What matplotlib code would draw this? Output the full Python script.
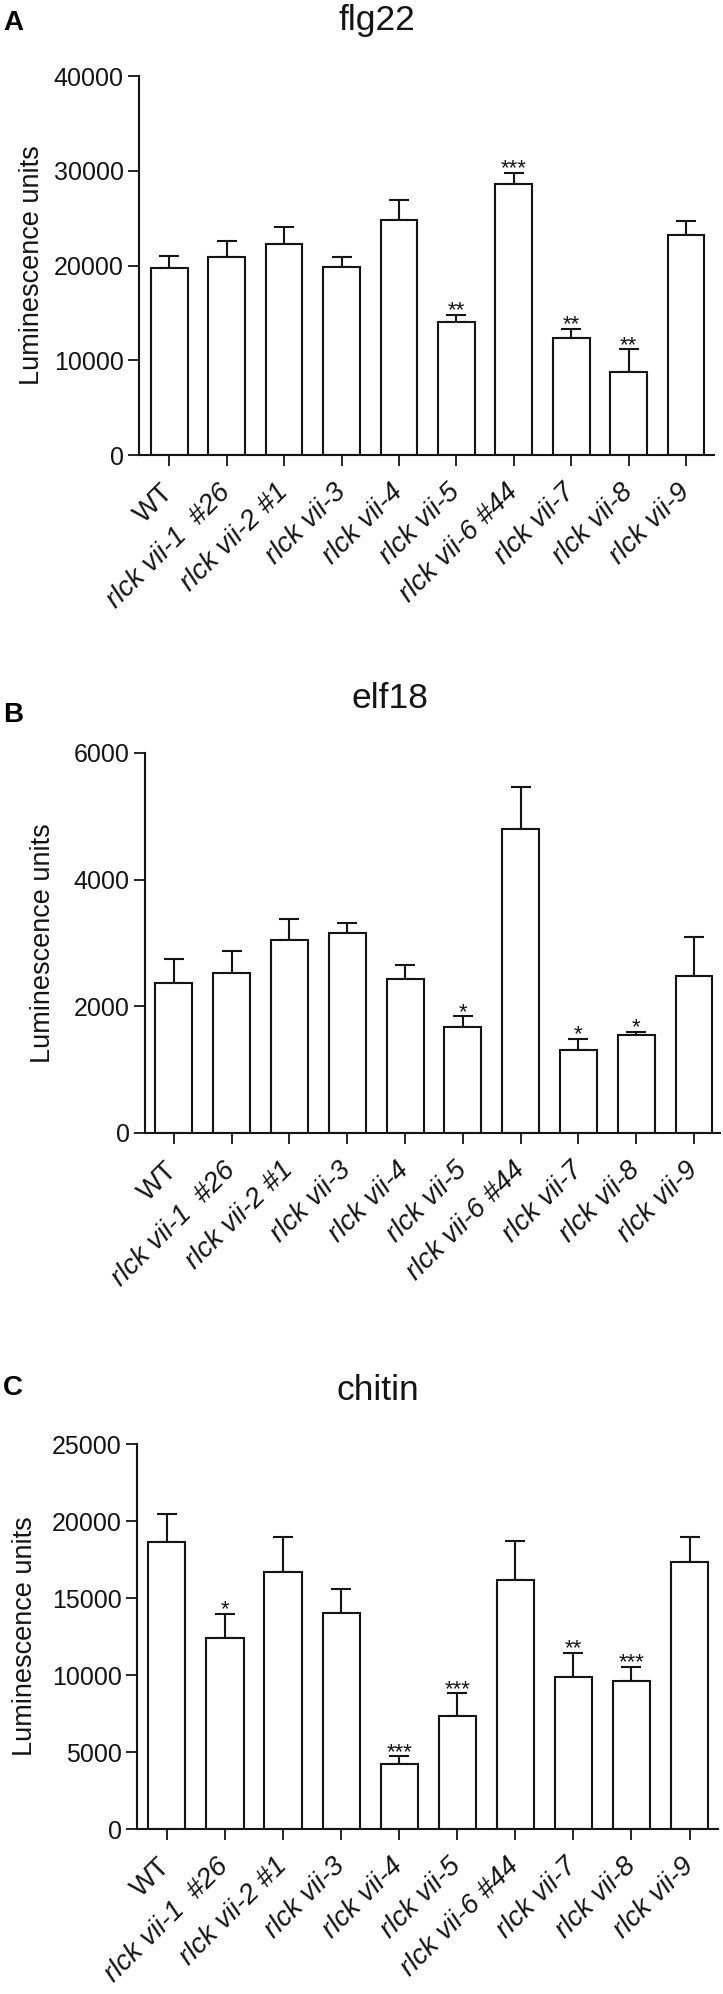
import matplotlib
matplotlib.use("Agg")
import matplotlib.pyplot as plt
import matplotlib.transforms as mtransforms
import numpy as np

plt.rcParams['font.family'] = ['Liberation Sans', 'DejaVu Sans']

genotypes = ["WT", "rlck vii-1  #26", "rlck vii-2 #1", "rlck vii-3", "rlck vii-4",
             "rlck vii-5", "rlck vii-6 #44", "rlck vii-7", "rlck vii-8", "rlck vii-9"]

flg22 = [19700, 20900, 22250, 19800, 24850, 14050, 28650, 12300, 8800, 23250]
flg22_err = [1300, 1650, 1850, 1050, 2100, 770, 1120, 980, 2350, 1400]
flg22_sig = ["", "", "", "", "", "**", "***", "**", "**", ""]

elf18 = [2370, 2530, 3050, 3160, 2430, 1670, 4800, 1310, 1540, 2480]
elf18_err = [370, 350, 330, 160, 220, 170, 670, 170, 60, 610]
elf18_sig = ["", "", "", "", "", "*", "", "*", "*", ""]

chitin = [18650, 12430, 16670, 14030, 4210, 7320, 16180, 9840, 9580, 17320]
chitin_err = [1780, 1550, 2310, 1550, 510, 1480, 2500, 1620, 930, 1670]
chitin_sig = ["", "*", "", "", "***", "***", "", "**", "***", ""]

W, H = 723, 1994
fig = plt.figure(figsize=(W / 100, H / 100), dpi=100)
ink = "#141414"

panels = [
    ("A", "flg22", flg22, flg22_err, flg22_sig, 40000, [0, 10000, 20000, 30000, 40000],
     (139, 714, 76, 455), (-0.526, 9.486), 377, 30, 30, -0.163),
    ("B", "elf18", elf18, elf18_err, elf18_sig, 6000, [0, 2000, 4000, 6000],
     (145, 720, 753, 1133), (-0.5, 9.45), 390, 708, 722, -0.155),
    ("C", "chitin", chitin, chitin_err, chitin_sig, 25000, [0, 5000, 10000, 15000, 20000, 25000],
     (137, 718, 1444, 1829), (-0.515, 9.49), 378, 1400, 1395, -0.170),
]

x = np.arange(len(genotypes))
shift = mtransforms.ScaledTranslation(-3 / 72, 0, fig.dpi_scale_trans)
for (letter, title, vals, errs, sig, ymax, yticks, box, xlim,
     tx, tbase, lbase, ylx) in panels:
    l, r, t, b = box
    ax = fig.add_axes([l / W, 1 - b / H, (r - l) / W, (b - t) / H])
    ax.bar(x, vals, width=0.64, color="white", edgecolor=ink, linewidth=1.5, zorder=2)
    ax.errorbar(x, vals, yerr=[np.zeros(len(vals)), errs], fmt="none", ecolor=ink,
                elinewidth=1.5, capsize=7.5, capthick=1.5, zorder=1)
    for xi, v, e, s in zip(x, vals, errs, sig):
        if s:
            ax.annotate(s, (xi, v + e), xytext=(0, -1), textcoords="offset points",
                        ha="center", va="baseline", fontsize=16, color=ink)
    ax.set_xlim(*xlim)
    ax.set_ylim(0, ymax)
    ax.set_yticks(yticks)
    ax.set_yticklabels([str(v) for v in yticks])
    ax.set_xticks(x)
    ax.set_xticklabels(genotypes, rotation=45, ha="right", va="center",
                       rotation_mode="anchor")
    for i, lab in enumerate(ax.get_xticklabels()):
        if i > 0:
            lab.set_fontstyle("italic")
        lab.set_transform(lab.get_transform() + shift)
    for sp in ["top", "right"]:
        ax.spines[sp].set_visible(False)
    for sp in ["left", "bottom"]:
        ax.spines[sp].set_linewidth(1.5)
        ax.spines[sp].set_color(ink)
    ax.tick_params(axis="y", direction="out", length=8, width=1.3, labelsize=18,
                   colors=ink, pad=3)
    ax.tick_params(axis="x", direction="out", length=8, width=1.3, labelsize=20,
                   colors=ink, pad=16)
    ax.set_ylabel("Luminescence units", fontsize=19.5, color=ink)
    ax.yaxis.set_label_coords(ylx, 0.5)
    fig.text(tx / W, 1 - tbase / H, title, ha="center", va="baseline",
             fontsize=25.5, color=ink)
    fig.text(3 / W, 1 - lbase / H, letter, ha="left", va="baseline",
             fontsize=20, fontweight="bold", color="black")

fig.savefig("out.png", dpi=100)
